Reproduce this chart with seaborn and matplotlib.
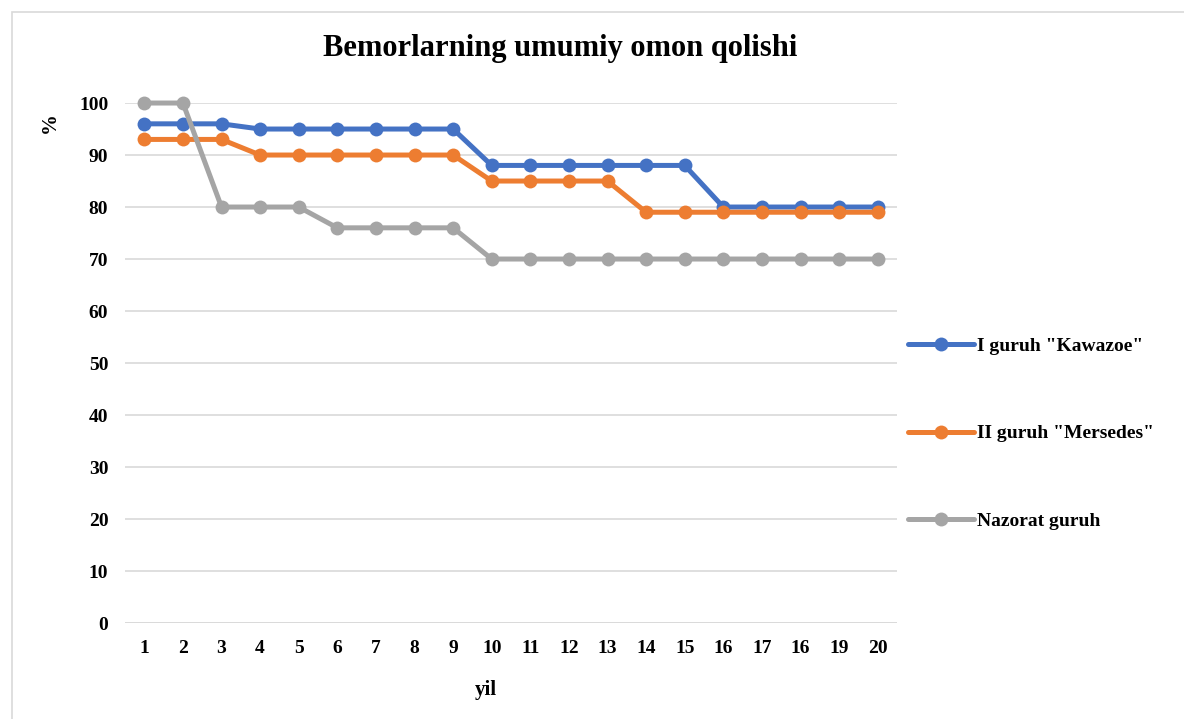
import matplotlib.pyplot as plt
import numpy as np
import pandas as pd
import seaborn as sns
from matplotlib.patches import Rectangle

# tick labels as printed on the chart (the "16" repeat is in the original)
years = ["1", "2", "3", "4", "5", "6", "7", "8", "9", "10",
         "11", "12", "13", "14", "15", "16", "17", "16", "19", "20"]
kawazoe = [96, 96, 96, 95, 95, 95, 95, 95, 95, 88,
           88, 88, 88, 88, 88, 80, 80, 80, 80, 80]
mersedes = [93, 93, 93, 90, 90, 90, 90, 90, 90, 85,
            85, 85, 85, 79, 79, 79, 79, 79, 79, 79]
nazorat = [100, 100, 80, 80, 80, 76, 76, 76, 76, 70,
           70, 70, 70, 70, 70, 70, 70, 70, 70, 70]
names = ['I guruh "Kawazoe"', 'II guruh "Mersedes"', "Nazorat guruh"]
colors = ["#4472C4", "#ED7D31", "#A5A5A5"]

pos = np.arange(len(years))
df = pd.concat([
    pd.DataFrame({"pos": pos, "val": vals, "grp": name})
    for name, vals in zip(names, [kawazoe, mersedes, nazorat])
])

sns.set_style("white")
plt.rcParams["font.family"] = ["Liberation Serif", "DejaVu Serif"]
plt.rcParams["font.weight"] = "bold"
plt.rcParams["text.color"] = "black"
plt.rcParams["xtick.color"] = "black"
plt.rcParams["ytick.color"] = "black"

fig = plt.figure(figsize=(11.84, 7.19), dpi=100)
ax = fig.add_axes([0.1056, 0.1335, 0.652, 0.7232])

sns.lineplot(df, x="pos", y="val", hue="grp", palette=colors, marker="o",
             markersize=10, markeredgewidth=0, linewidth=3.6, ax=ax, legend=False)
for ln in ax.lines:
    ln.set_clip_on(False)

ax.set_xlim(-0.5, len(years) - 0.5)
ax.set_ylim(0, 100)
ax.set_yticks(range(0, 101, 10))
ax.set_xticks(pos)
ax.set_xticklabels(years)
ax.tick_params(axis="both", length=0, labelsize=14, pad=12, labelcolor="black")
for t in ax.get_xticklabels() + ax.get_yticklabels():
    t.set_fontweight("bold")
ax.yaxis.grid(True, color="#D9D9D9", lw=1.2)
ax.set_axisbelow(True)
for s in ax.spines.values():
    s.set_visible(False)
ax.axhline(0, color="#D9D9D9", lw=1.2, zorder=0)
ax.set_xlabel("")
ax.set_ylabel("")

fig.text(0.41, 0.04, "yil", ha="center", va="center", fontsize=15, fontweight="bold")
fig.text(0.042, 0.83, "%", ha="center", va="center", fontsize=15,
         fontweight="bold", rotation=90)
fig.text(0.473, 0.932, "Bemorlarning umumiy omon qolishi", ha="center", va="center",
         fontsize=22, fontweight="bold")

handles = [plt.Line2D([], [], color=c, lw=3.6, marker="o", markersize=10,
                      markeredgewidth=0) for c in colors]
fig.legend(handles, names, loc="center left", bbox_to_anchor=(0.752, 0.397),
           frameon=False, handlelength=3.4, handletextpad=0.15,
           labelspacing=3.6, prop={"weight": "bold", "size": 14})

fig.patches.append(Rectangle((0.0105, -0.01), 1.0, 0.9935, transform=fig.transFigure,
                             fill=False, ec="#D9D9D9", lw=1.2))

fig.savefig("out.png", dpi=100)
